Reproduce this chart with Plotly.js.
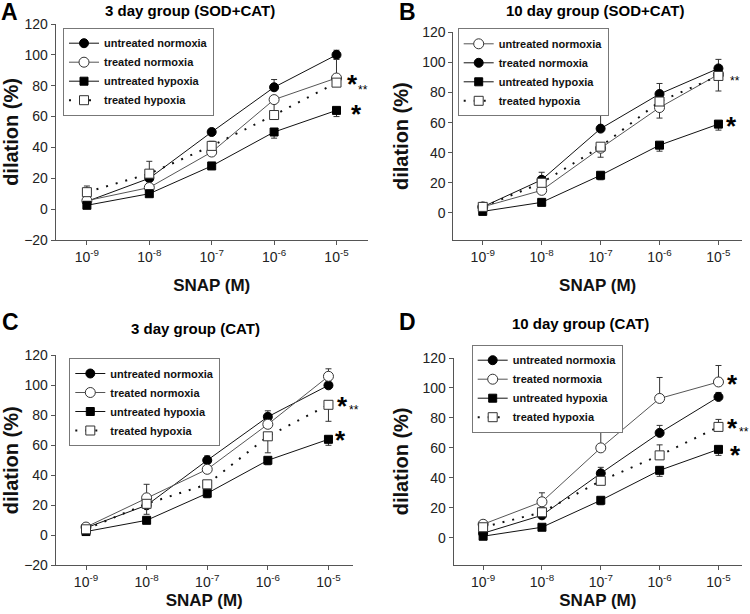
<!DOCTYPE html>
<html>
<head>
<meta charset="utf-8">
<script src="https://cdn.plot.ly/plotly-3.0.1.min.js"></script>
<style>html,body{margin:0;padding:0;background:#fff;}#chart{width:750px;height:614px;}</style>
</head>
<body>
<div id="chart"></div>
<script>
// ---- data ----
const snapConc = [1e-9, 1e-8, 1e-7, 1e-6, 1e-5];
const snapTickText = ['10<sup>-9</sup>', '10<sup>-8</sup>', '10<sup>-7</sup>', '10<sup>-6</sup>', '10<sup>-5</sup>'];
const seriesNames = ['untreated normoxia', 'treated normoxia', 'untreated hypoxia', 'treated hypoxia'];
const panelTitles = ['3 day group (SOD+CAT)', '10 day group (SOD+CAT)', '3 day group (CAT)', '10 day group (CAT)'];
const panelLetters = ['A', 'B', 'C', 'D'];

// Panel A: 3 day group (SOD+CAT)
const aUntreatedNormoxia = [5, 20, 50, 79, 100];
const aTreatedNormoxia   = [5.5, 14, 37, 71, 85];
const aUntreatedHypoxia  = [2.5, 10, 28, 50, 64];
const aTreatedHypoxia    = [11, 23, 41, 61, 82];
const aErrUntreatedNormoxia = {up: [0, 1, 2, 5, 3], down: [0, 0, 0, 0, 0]};
const aErrTreatedNormoxia   = {up: [0, 0, 0, 0, 12], down: [0, 0, 0, 9, 0]};
const aErrUntreatedHypoxia  = {up: [0, 0, 0, 0, 0], down: [0, 0, 2, 4, 4]};
const aErrTreatedHypoxia    = {up: [4, 8, 3, 0, 0], down: [0, 0, 0, 0, 0]};

// Panel B: 10 day group (SOD+CAT)
const bUntreatedNormoxia = [4, 15, 43, 70, 92];
const bTreatedNormoxia   = [4, 22, 56, 79, 96];
const bUntreatedHypoxia  = [1, 7, 25, 45, 59];
const bTreatedHypoxia    = [4, 20, 44, 74, 91];
const bErrUntreatedNormoxia = {up: [0, 0, 0, 0, 0], down: [0, 2, 6, 7, 0]};
const bErrTreatedNormoxia   = {up: [0, 5, 10, 7, 6], down: [0, 0, 0, 0, 0]};
const bErrUntreatedHypoxia  = {up: [0, 0, 0, 0, 0], down: [0, 0, 3, 4, 4]};
const bErrTreatedHypoxia    = {up: [0, 0, 0, 0, 0], down: [0, 0, 0, 0, 10]};

// Panel C: 3 day group (CAT)
const cUntreatedNormoxia = [5, 20, 50, 79, 100];
const cTreatedNormoxia   = [5.5, 25, 44, 74, 106];
const cUntreatedHypoxia  = [2.5, 10, 28, 50, 64];
const cTreatedHypoxia    = [4, 21, 34, 66, 87];
const cErrUntreatedNormoxia = {up: [0, 0, 3, 4, 0], down: [0, 0, 0, 0, 0]};
const cErrTreatedNormoxia   = {up: [0, 9, 0, 0, 5], down: [0, 0, 0, 0, 0]};
const cErrUntreatedHypoxia  = {up: [0, 0, 0, 0, 0], down: [0, 0, 3, 3, 4]};
const cErrTreatedHypoxia    = {up: [0, 0, 0, 0, 0], down: [0, 7, 0, 11, 11]};

// Panel D: 10 day group (CAT)
const dUntreatedNormoxia = [3, 15, 43, 70, 94];
const dTreatedNormoxia   = [9, 24, 60, 93, 104];
const dUntreatedHypoxia  = [1, 7, 25, 45, 59];
const dTreatedHypoxia    = [7, 17, 38, 55, 74];
const dErrUntreatedNormoxia = {up: [0, 0, 4, 5, 3], down: [0, 0, 0, 0, 0]};
const dErrTreatedNormoxia   = {up: [0, 6, 13, 14, 11], down: [0, 0, 0, 0, 0]};
const dErrUntreatedHypoxia  = {up: [0, 0, 0, 0, 0], down: [0, 0, 3, 4, 4]};
const dErrTreatedHypoxia    = {up: [0, 3, 0, 7, 5], down: [0, 0, 0, 0, 0]};

// ---- build ----
const FONT = 'Liberation Sans, Arial, sans-serif';
const filledCircle = {symbol: 'circle', color: '#000', size: 9, line: {color: '#000', width: 1}};
const openCircle = {symbol: 'circle', color: '#fff', size: 10, line: {color: '#333', width: 1}};
const filledSquare = {symbol: 'square', color: '#000', size: 8, line: {color: '#000', width: 1}};
const openSquare = {symbol: 'square', color: '#fff', size: 9, line: {color: '#333', width: 1}};

function trace(name, y, err, marker, line, xa, ya, legendId) {
  return {
    type: 'scatter', mode: 'lines+markers', name: name,
    x: snapConc, y: y,
    xaxis: xa, yaxis: ya, legend: legendId,
    marker: marker, line: line,
    error_y: {type: 'data', symmetric: false, array: err.up, arrayminus: err.down,
              color: '#333', thickness: 1, width: 3},
    cliponaxis: false
  };
}
const solidLine = {color: '#111', width: 1};
const greyLine = {color: '#555', width: 1};
const dotLine = {color: '#111', width: 2, dash: '2px,8px'};

const panels = [
  {xa: 'x', ya: 'y', lg: 'legend', s: [
    [seriesNames[0], aUntreatedNormoxia, aErrUntreatedNormoxia, filledCircle, solidLine],
    [seriesNames[1], aTreatedNormoxia, aErrTreatedNormoxia, openCircle, greyLine],
    [seriesNames[2], aUntreatedHypoxia, aErrUntreatedHypoxia, filledSquare, solidLine],
    [seriesNames[3], aTreatedHypoxia, aErrTreatedHypoxia, openSquare, dotLine]]},
  {xa: 'x2', ya: 'y2', lg: 'legend2', s: [
    [seriesNames[0], bUntreatedNormoxia, bErrUntreatedNormoxia, openCircle, greyLine],
    [seriesNames[1], bTreatedNormoxia, bErrTreatedNormoxia, filledCircle, solidLine],
    [seriesNames[2], bUntreatedHypoxia, bErrUntreatedHypoxia, filledSquare, solidLine],
    [seriesNames[3], bTreatedHypoxia, bErrTreatedHypoxia, openSquare, dotLine]]},
  {xa: 'x3', ya: 'y3', lg: 'legend3', s: [
    [seriesNames[0], cUntreatedNormoxia, cErrUntreatedNormoxia, filledCircle, solidLine],
    [seriesNames[1], cTreatedNormoxia, cErrTreatedNormoxia, openCircle, greyLine],
    [seriesNames[2], cUntreatedHypoxia, cErrUntreatedHypoxia, filledSquare, solidLine],
    [seriesNames[3], cTreatedHypoxia, cErrTreatedHypoxia, openSquare, dotLine]]},
  {xa: 'x4', ya: 'y4', lg: 'legend4', s: [
    [seriesNames[0], dUntreatedNormoxia, dErrUntreatedNormoxia, filledCircle, solidLine],
    [seriesNames[1], dTreatedNormoxia, dErrTreatedNormoxia, openCircle, greyLine],
    [seriesNames[2], dUntreatedHypoxia, dErrUntreatedHypoxia, filledSquare, solidLine],
    [seriesNames[3], dTreatedHypoxia, dErrTreatedHypoxia, openSquare, dotLine]]}
];

const data = [];
panels.forEach(p => p.s.forEach(s => data.push(trace(s[0], s[1], s[2], s[3], s[4], p.xa, p.ya, p.lg))));

function xaxis(domain, range, anchor, standoff) {
  return {domain: domain, type: 'log', range: range, anchor: anchor,
    tickvals: snapConc, ticktext: snapTickText, ticks: 'outside', ticklen: 4, tickcolor: '#555',
    showline: true, linecolor: '#555', linewidth: 1, showgrid: false, zeroline: false,
    tickfont: {family: FONT, size: 14, color: '#222'},
    title: {text: 'SNAP (M)', font: {family: FONT, size: 17, color: '#111', weight: 'bold'}, standoff: standoff},
    automargin: false};
}
function yaxis(domain, range, anchor, tickvals) {
  return {domain: domain, range: range, anchor: anchor, tickvals: tickvals,
    ticks: 'outside', ticklen: 4, tickcolor: '#555',
    showline: true, linecolor: '#555', linewidth: 1, showgrid: false, zeroline: false,
    tickfont: {family: FONT, size: 14, color: '#222'},
    title: {text: 'dilation (%)', font: {family: FONT, size: 20, color: '#111', weight: 'bold'}, standoff: 8},
    automargin: false};
}
const ticksFull = [-20, 0, 20, 40, 60, 80, 100, 120];
const ticksPos = [0, 20, 40, 60, 80, 100, 120];

function legend(x, y) {
  return {x: x, y: y, xanchor: 'left', yanchor: 'top', bgcolor: '#fff',
    bordercolor: '#777', borderwidth: 1, itemwidth: 30,
    font: {family: FONT, size: 11, color: '#111', weight: 'bold'},
    tracegroupgap: 0};
}

function ann(text, x, y, size, bold) {
  return {text: text, x: x, y: y, xref: 'paper', yref: 'paper', showarrow: false,
    xanchor: 'center', yanchor: 'middle',
    font: {family: FONT, size: size, color: '#000', weight: bold ? 'bold' : 'normal'}};
}
const W = 750, H = 614;
const px = (v) => v / W, py = (v) => 1 - v / H;

const annotations = [
  ann(panelLetters[0], px(9), py(12), 23, true),
  ann(panelLetters[1], px(407), py(12), 23, true),
  ann(panelLetters[2], px(10), py(322), 23, true),
  ann(panelLetters[3], px(407), py(322), 23, true),
  ann(panelTitles[0], px(190), py(10), 15, true),
  ann(panelTitles[1], px(595), py(10), 15, true),
  ann(panelTitles[2], px(195), py(328), 15, true),
  ann(panelTitles[3], px(580), py(323), 15, true),
  // significance marks
  ann('*', px(352), py(84), 26, true), ann('**', px(363), py(90), 12, false),
  ann('*', px(356), py(114), 26, true),
  ann('**', px(735), py(81), 12, false),
  ann('*', px(731), py(126), 26, true),
  ann('*', px(342), py(406), 26, true), ann('**', px(354), py(410), 12, false),
  ann('*', px(340), py(440), 26, true),
  ann('*', px(732), py(384), 26, true),
  ann('*', px(732), py(428), 26, true), ann('**', px(744), py(432), 12, false),
  ann('*', px(735), py(455), 26, true)
];

const layout = {
  width: W, height: H, margin: {l: 0, r: 0, t: 0, b: 0},
  paper_bgcolor: '#fff', plot_bgcolor: '#fff', font: {family: FONT},
  xaxis: xaxis([px(55.7), px(367.7)], [-9.5, -4.5], 'y', 15),
  yaxis: yaxis([py(240), py(24)], [-20, 120], 'x', ticksFull),
  xaxis2: xaxis([px(453.3), px(742)], [-9.5, -4.6], 'y2', 15),
  yaxis2: yaxis([py(240), py(32.3)], [-18, 120], 'x2', ticksPos),
  xaxis3: xaxis([px(55.7), px(352.7)], [-9.5, -4.6], 'y3', 5),
  yaxis3: yaxis([py(565.3), py(355.3)], [-20, 120], 'x3', ticksFull),
  xaxis4: xaxis([px(453.7), px(742)], [-9.5, -4.6], 'y4', 5),
  yaxis4: yaxis([py(564.7), py(358)], [-18, 120], 'x4', ticksPos),
  legend: legend(px(63), py(27.7)),
  legend2: legend(px(457.7), py(28.3)),
  legend3: legend(px(69.3), py(358)),
  legend4: legend(px(471.7), py(344.7)),
  annotations: annotations,
  showlegend: true
};

Plotly.newPlot('chart', data, layout, {displayModeBar: false, staticPlot: true});
</script>
</body>
</html>
